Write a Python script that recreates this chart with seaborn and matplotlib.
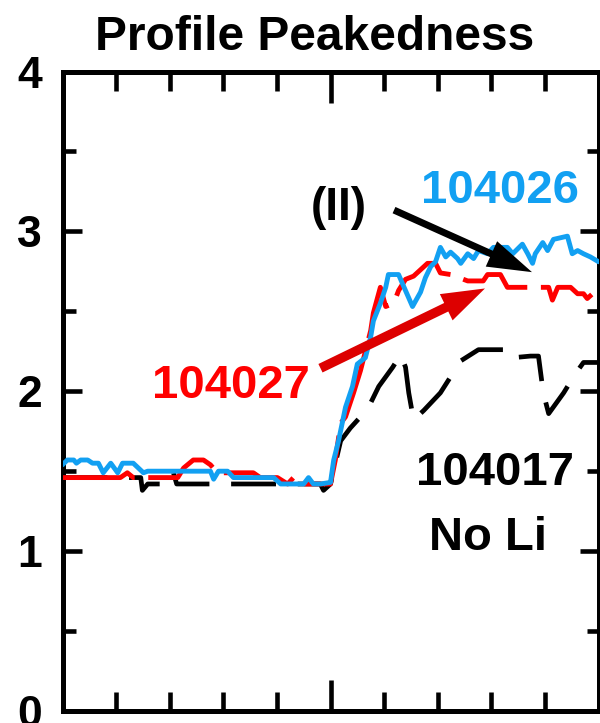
import matplotlib
matplotlib.use("Agg")
import matplotlib.pyplot as plt
from matplotlib.ticker import FixedLocator, NullFormatter
import seaborn as sns
import pandas as pd

# ---------------- data ----------------
x_104026 = [0.00, 0.09, 0.21, 0.26, 0.34, 0.47, 0.56, 0.67, 0.76, 0.90, 1.03, 1.12, 1.32, 1.51, 1.59,
            2.76, 2.82, 2.91, 3.08, 3.19, 3.94, 4.07, 4.50, 4.59, 4.68, 4.81, 5.00, 5.06, 5.15, 5.28,
            5.41, 5.50, 5.65, 5.75, 5.80, 5.93, 6.03, 6.08, 6.27, 6.36, 6.53, 6.68, 6.77, 6.87, 6.96,
            7.05, 7.15, 7.24, 7.37, 7.43, 7.56, 7.67, 7.76, 7.93, 8.04, 8.30, 8.40, 8.58, 8.68, 8.77,
            8.82, 8.96, 9.05, 9.16, 9.42, 9.51, 9.61, 9.72, 9.85, 10.00]
y_104026 = [1.54, 1.57, 1.57, 1.55, 1.57, 1.57, 1.55, 1.55, 1.49, 1.55, 1.49, 1.55, 1.55, 1.49, 1.50,
            1.50, 1.45, 1.50, 1.50, 1.46, 1.46, 1.42, 1.42, 1.46, 1.42, 1.42, 1.43, 1.57, 1.69, 1.90,
            2.03, 2.17, 2.21, 2.34, 2.44, 2.55, 2.65, 2.73, 2.73, 2.66, 2.53, 2.62, 2.71, 2.78, 2.81,
            2.90, 2.84, 2.87, 2.83, 2.80, 2.86, 2.83, 2.88, 2.86, 2.90, 2.90, 2.86, 2.92, 2.86, 2.80,
            2.86, 2.93, 2.88, 2.95, 2.97, 2.86, 2.88, 2.86, 2.84, 2.81]

x_104027 = [0.00, 0.71, 1.08, 1.21, 1.32, 2.15, 2.26, 2.44, 2.63, 2.76, 2.89, 3.56, 3.69, 4.01, 4.20,
            4.31, 4.44, 5.00, 5.09, 5.19, 5.28, 5.43, 5.56, 5.75, 5.80, 5.93, 6.03, 6.18, 6.27, 6.40,
            6.55, 6.68, 6.81, 6.96, 7.05, 7.24, 7.56, 7.85, 7.93, 8.17, 8.30, 8.92, 9.07, 9.14, 9.24,
            9.48, 9.61, 9.72, 9.79, 9.89, 10.00]
y_104027 = [1.46, 1.46, 1.46, 1.49, 1.46, 1.46, 1.52, 1.57, 1.57, 1.54, 1.49, 1.49, 1.46, 1.46, 1.42,
            1.46, 1.42, 1.42, 1.57, 1.80, 1.84, 1.99, 2.13, 2.38, 2.49, 2.65, 2.53, 2.55, 2.63, 2.70,
            2.72, 2.76, 2.80, 2.80, 2.74, 2.73, 2.69, 2.69, 2.73, 2.73, 2.65, 2.65, 2.65, 2.57, 2.65,
            2.65, 2.61, 2.61, 2.58, 2.61, 2.58]

x_104017 = [0.00, 1.46, 1.49, 1.59, 2.01, 2.07, 2.13, 4.81, 4.87, 5.00, 5.19, 5.37, 5.56, 5.71, 5.90,
            6.16, 6.31, 6.40, 6.46, 6.55, 6.74, 7.05, 7.43, 7.76, 8.23, 8.28, 8.41, 8.73, 8.88, 8.97,
            9.07, 9.35, 9.57, 9.72, 10.00]
y_104017 = [1.46, 1.46, 1.38, 1.42, 1.42, 1.49, 1.42, 1.42, 1.38, 1.42, 1.69, 1.77, 1.84, 1.90, 2.03,
            2.15, 2.23, 2.15, 1.99, 1.82, 1.88, 1.99, 2.19, 2.26, 2.26, 2.21, 2.21, 2.22, 2.22, 1.99,
            1.86, 1.99, 2.11, 2.18, 2.18]

y_ticks = [0, 1, 2, 3, 4]
y_tick_labels = ["0", "1", "2", "3", "4"]
title = "Profile Peakedness"

# ---------------- style ----------------
sns.set_style("ticks")
plt.rcParams['font.family'] = ['Liberation Sans', 'DejaVu Sans']
plt.rcParams['font.weight'] = 'bold'

BLUE = "#12A0F2"
RED = "#FF0000"
RED_ARROW = "#DD0000"

fig = plt.figure(figsize=(6.0, 7.23), dpi=100)
ax = fig.add_axes([62.5 / 600, 1 - 711 / 723, (598.5 - 62.5) / 600, (711 - 71.5) / 723])

df17 = pd.DataFrame({"x": x_104017, "y": y_104017})
df27 = pd.DataFrame({"x": x_104027, "y": y_104027})
df26 = pd.DataFrame({"x": x_104026, "y": y_104026})

sns.lineplot(data=df17, x="x", y="y", ax=ax, color="black", linewidth=3.4,
             linestyle=(0, (9.5, 4.6)), estimator=None, sort=False, zorder=2)
sns.lineplot(data=df27, x="x", y="y", ax=ax, color=RED, linewidth=3.5,
             linestyle=(0, (15.5, 2.8)), estimator=None, sort=False, zorder=3)
sns.lineplot(data=df26, x="x", y="y", ax=ax, color=BLUE, linewidth=3.5,
             estimator=None, sort=False, zorder=4)

ax.set_xlim(0, 10)
ax.set_ylim(0, 4)
ax.set_xlabel("")
ax.set_ylabel("")

ax.xaxis.set_major_locator(FixedLocator([0, 5, 10]))
ax.xaxis.set_minor_locator(FixedLocator([1, 2, 3, 4, 6, 7, 8, 9]))
ax.xaxis.set_major_formatter(NullFormatter())
ax.set_yticks(y_ticks)
ax.set_yticklabels(y_tick_labels)
ax.yaxis.set_minor_locator(FixedLocator([0.5, 1.5, 2.5, 3.5]))

ax.tick_params(axis='both', which='both', direction='in', top=True, right=True,
               width=3.3, color='black', labelcolor='black')
ax.tick_params(axis='x', which='major', length=22, labelbottom=False)
ax.tick_params(axis='x', which='minor', length=13.5)
ax.tick_params(axis='y', which='major', length=13.5, labelsize=32, pad=15,
               labelright=False)
ax.tick_params(axis='y', which='minor', length=9)
for lab in ax.get_yticklabels():
    lab.set_fontweight('bold')
    lab.set_color('black')

for sp in ax.spines.values():
    sp.set_linewidth(3.6)
    sp.set_color('black')
    sp.set_visible(True)

# title
fig.text(314.5 / 600, 1 - 50 / 723, title, ha='center', va='baseline',
         fontsize=34.5, fontweight='bold', color='black')

# annotations
ax.text(8.153, 3.177, "104026", ha='center', va='baseline', fontsize=34,
        fontweight='bold', color=BLUE, zorder=6)
ax.text(5.149, 3.07, "(II)", ha='center', va='baseline', fontsize=33,
        fontweight='bold', color='black', zorder=6)
ax.text(3.134, 1.957, "104027", ha='center', va='baseline', fontsize=34,
        fontweight='bold', color=RED, zorder=6)
ax.text(8.06, 1.413, "104017", ha='center', va='baseline', fontsize=34,
        fontweight='bold', color='black', zorder=6)
ax.text(7.94, 1.007, "No Li", ha='center', va='baseline', fontsize=34,
        fontweight='bold', color='black', zorder=6)

ax.annotate("", xy=(8.759, 2.745), xytext=(6.185, 3.133), xycoords='data',
            arrowprops=dict(arrowstyle="simple,head_length=3.2,head_width=2.0,tail_width=0.5",
                            mutation_scale=10, fc='black', ec='none', lw=0,
                            shrinkA=0, shrinkB=0), zorder=7)
ax.annotate("", xy=(7.882, 2.643), xytext=(4.813, 2.144), xycoords='data',
            arrowprops=dict(arrowstyle="simple,head_length=3.1,head_width=2.1,tail_width=0.68",
                            mutation_scale=10, fc=RED_ARROW, ec='none', lw=0,
                            shrinkA=0, shrinkB=0), zorder=7)

fig.savefig("out.png", dpi=100)
